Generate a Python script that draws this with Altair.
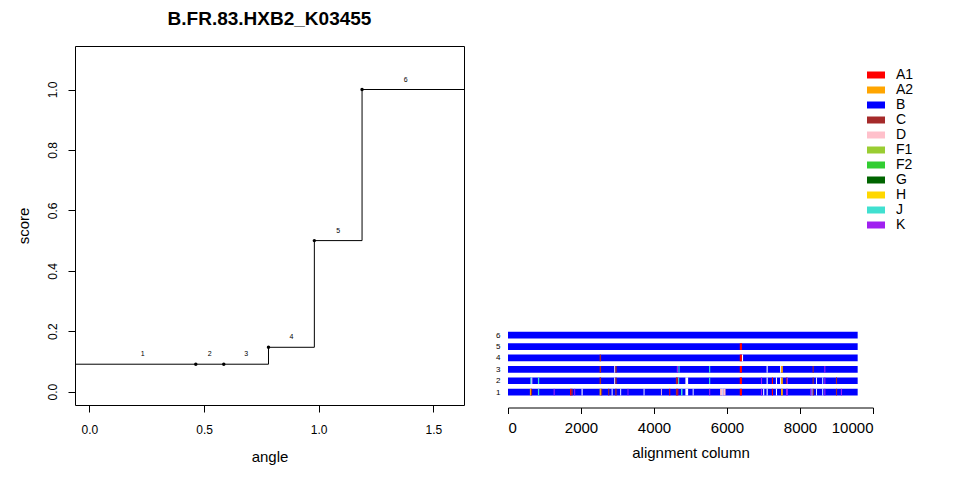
import altair as alt
import pandas as pd

FONT = "Liberation Sans"

# ---------------- left panel data ----------------
breakpoints = [0.464, 0.586, 0.781, 0.981, 1.189]
interval_scores = [0.091, 0.091, 0.091, 0.147, 0.5, 1.0]
interval_labels = ["1", "2", "3", "4", "5", "6"]
angle_end = 1.5708
step_extend = [-0.3, 2.0]

# ---------------- right panel data ----------------
subtypes = ["A1", "A2", "B", "C", "D", "F1", "F2", "G", "H", "J", "K"]
subtype_colors = ["#FF0000", "#FFA500", "#0000FF", "#A52A2A", "#FFC0CB",
                  "#9ACD32", "#32CD32", "#006400", "#FFD700", "#40E0D0", "#A020F0"]
seq_len = 9580
row_ids = [1, 2, 3, 4, 5, 6]
x_ticks = [0, 2000, 4000, 6000, 8000, 10000]

stripes_row1 = [(600, 630, "A2"), (630, 660, "C"), (820, 855, "J"), (1250, 1280, "K"),
                (1700, 1740, "A1"), (1740, 1770, "C"), (1815, 1840, "K"), (2015, 2045, "gap"),
                (2510, 2560, "A2"), (2560, 2580, "C"), (2745, 2775, "C"), (2840, 2865, "gap"),
                (2940, 2975, "C"), (3075, 3100, "gap"), (3275, 3300, "K"), (3715, 3740, "gap"),
                (4190, 4215, "D"), (4420, 4445, "A1"), (4600, 4640, "C"), (4640, 4665, "A1"),
                (4740, 4780, "J"), (4860, 4935, "gap"), (5060, 5085, "gap"), (5510, 5540, "K"),
                (5810, 5870, "D"), (5870, 5895, "gap"), (5895, 5960, "D"), (6350, 6410, "A1"),
                (6930, 6960, "K"), (6990, 7020, "gap"), (7085, 7115, "gap"), (7230, 7260, "A1"),
                (7340, 7370, "gap"), (7480, 7530, "A2"), (7615, 7670, "K"), (8280, 8310, "K"),
                (8320, 8345, "gap"), (8345, 8375, "C"), (8440, 8465, "gap"), (8610, 8635, "gap"),
                (8665, 8695, "K"), (8985, 9015, "C"), (9120, 9150, "K")]
stripes_row2 = [(610, 640, "J"), (640, 665, "gap"), (820, 855, "J"), (2510, 2550, "C"),
                (2910, 2940, "gap"), (2940, 2975, "C"), (4600, 4640, "C"), (4640, 4660, "A1"),
                (4660, 4690, "J"), (4860, 4935, "gap"), (5510, 5540, "J"), (6350, 6410, "A1"),
                (6930, 6960, "K"), (7085, 7115, "gap"), (7230, 7260, "A1"), (7340, 7370, "gap"),
                (7455, 7480, "gap"), (7480, 7530, "A2"), (7615, 7640, "C"), (7640, 7670, "K"),
                (8345, 8375, "C"), (8440, 8465, "gap"), (8610, 8635, "gap"), (8665, 8695, "K"),
                (8985, 9015, "C")]
stripes_row3 = [(2510, 2550, "C"), (2910, 2940, "gap"), (2940, 2975, "C"), (4625, 4655, "K"),
                (4670, 4700, "J"), (5510, 5540, "J"), (6350, 6410, "A1"), (7085, 7115, "gap"),
                (7455, 7480, "gap"), (7480, 7530, "A2"), (8345, 8375, "C"), (8665, 8695, "K")]
stripes_row4 = [(2510, 2550, "C"), (6350, 6410, "A1"), (6410, 6440, "gap")]
stripes_row5 = [(6350, 6410, "A1")]
stripes_row6 = []

# ---------------- build tables ----------------
step_x = [step_extend[0]] + breakpoints + [step_extend[1]]
step_y = interval_scores + [interval_scores[-1]]
step_df = pd.DataFrame({"angle": step_x, "score": step_y})
pts_df = pd.DataFrame({"angle": breakpoints, "score": interval_scores[1:]})
bounds = [0.0] + breakpoints + [angle_end]
lab_df = pd.DataFrame({
    "angle": [(bounds[i] + bounds[i + 1]) / 2 for i in range(len(interval_scores))],
    "score": interval_scores,
    "label": interval_labels,
})

seg_rows = []
for r in row_ids:
    seg_rows.append({"row": r, "start": 0, "end": seq_len, "subtype": "B"})
all_stripes = [stripes_row1, stripes_row2, stripes_row3, stripes_row4, stripes_row5, stripes_row6]
for r, stripes in zip(row_ids, all_stripes):
    for s, e, t in stripes:
        seg_rows.append({"row": r, "start": s, "end": e, "subtype": t})
seg_df = pd.DataFrame(seg_rows)

# ---------------- left chart ----------------
xs = alt.Scale(domain=[-0.0628, 1.6336], nice=False, zero=False)
ys = alt.Scale(domain=[-0.044, 1.144], nice=False, zero=False)
x_enc = alt.X("angle:Q", scale=xs, axis=alt.Axis(
    values=[0, 0.5, 1.0, 1.5], format=".1f", title="angle", domain=False, grid=False,
    tickSize=7, labelPadding=12, labelFontSize=12, titleFontSize=15, titlePadding=14,
    titleFontWeight="normal"))
y_enc = alt.Y("score:Q", scale=ys, axis=alt.Axis(
    values=[0, 0.2, 0.4, 0.6, 0.8, 1.0], format=".1f", title="score", domain=False, grid=False,
    tickSize=7, labelAngle=-90, labelPadding=9, labelFontSize=12, titleFontSize=15,
    titlePadding=15, titleFontWeight="normal"))

line = alt.Chart(step_df).mark_line(interpolate="step-after", color="black",
                                    strokeWidth=1, clip=True).encode(x=x_enc, y=y_enc)
pts = alt.Chart(pts_df).mark_point(filled=True, color="black", size=12, opacity=1,
                                   clip=True).encode(x="angle:Q", y="score:Q")
labs = alt.Chart(lab_df).mark_text(fontSize=7, dy=-10, color="black", font=FONT).encode(
    x="angle:Q", y="score:Q", text="label:N")

left = alt.layer(line, pts, labs).properties(
    width=389, height=359,
    title=alt.Title("B.FR.83.HXB2_K03455", fontSize=19, fontWeight="bold", font=FONT,
                    offset=17, color="black"),
    view=alt.ViewBackground(stroke="black", strokeWidth=1),
)

# ---------------- right chart ----------------
right = alt.Chart(seg_df).transform_calculate(
    lo="datum.row - 0.294", hi="datum.row + 0.294"
).mark_rect().encode(
    x=alt.X("start:Q", scale=alt.Scale(domain=[0, 10000], nice=False, zero=False),
            axis=alt.Axis(values=x_ticks, format="d", title="alignment column", grid=False,
                          tickSize=6, labelPadding=7, labelFontSize=15, titleFontSize=15,
                          titlePadding=10, titleFontWeight="normal")),
    x2="end:Q",
    y=alt.Y("lo:Q", scale=alt.Scale(domain=[-0.35, 31.38], nice=False, zero=False),
            axis=alt.Axis(values=row_ids, title=None, domain=False, ticks=False, grid=False,
                          labelFontSize=8, labelPadding=8)),
    y2="hi:Q",
    color=alt.Color("subtype:N",
                    scale=alt.Scale(domain=subtypes + ["gap"], range=subtype_colors + ["#FFFFFF"]),
                    legend=alt.Legend(orient="none", legendX=794, legendY=22, title=None,
                                      values=subtypes,
                                      symbolType="M-1.8,-0.7H1.8V0.7H-1.8Z",
                                      symbolSize=100, symbolStrokeWidth=0,
                                      labelFontSize=14, labelOffset=13, rowPadding=1,
                                      padding=0, labelFont=FONT, labelColor="black")),
).properties(
    width=365, height=361.5,
    title=alt.Title(" ", fontSize=19, fontWeight="bold", font=FONT, offset=17),
)

chart = alt.hconcat(left, right, spacing=30).configure(
    font=FONT, background="white",
    padding={"left": 7, "top": 1, "right": 5, "bottom": 5},
).configure_view(stroke="transparent").configure_axis(
    labelColor="black", titleColor="black", tickColor="black", domainColor="black",
    labelFont=FONT, titleFont=FONT,
)

chart.save("out.html", embed_options={"renderer": "svg", "actions": False})
